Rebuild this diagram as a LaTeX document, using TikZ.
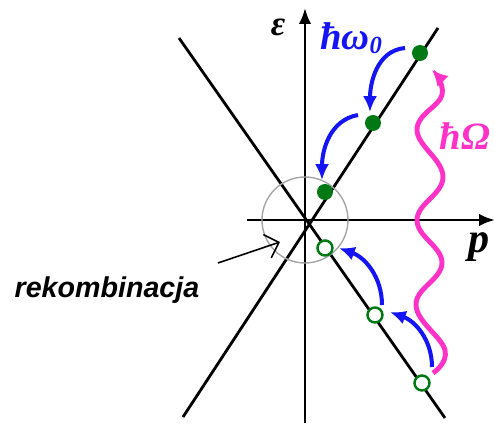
\documentclass[tikz,border=0pt]{standalone}
\usepackage{amsmath,bm}
\usepackage{fontspec}
\newfontfamily\labelfont{Liberation Sans}
\newfontfamily\symfont{Liberation Serif}
\usetikzlibrary{arrows.meta}
\definecolor{dotgreen}{RGB}{0,120,20}
\definecolor{jumpblue}{RGB}{20,20,245}
\definecolor{photonpink}{RGB}{255,50,200}
\newcommand{\pxu}{*0.02cm}
\tikzset{
    full/.style={circle, fill=dotgreen, inner sep=0pt, minimum size=16\pxu},
    empty/.style={circle, draw=dotgreen, line width=1.4pt, fill=white, inner sep=0pt, minimum size=15\pxu},
    jump/.style={jumpblue, line width=2.3pt, -{Latex[length=9pt,width=8pt]}},
    band/.style={black, line width=1.6pt},
    sym/.style={font=\symfont\bfseries\itshape},
}
\begin{document}
\begin{tikzpicture}[x=0.02cm, y=0.02cm]

        \useasboundingbox (-305,-206) rectangle (190,220);

        % axes

        \draw[line width=1.5pt, -{Latex[length=9pt,width=7pt]}] (-58,0) -- (190,0);
        \draw[line width=1.5pt, -{Latex[length=9pt,width=7pt]}] (0,-203) -- (0,212);
        \node[sym] (eps) at (-27,193) {\fontsize{20}{20}\selectfont ε};
        \node[sym] (pp) at (174,-27) {\fontsize{24}{24}\selectfont p};

        % bands

        \draw[band] (-122,-197) -- (133,192); % up
        \draw[band] (-126,182) -- (140,-198); % down

        \draw[gray!70, line width=0.8pt] (0,0) circle (43);

        % electrons

        \node[full] (e1) at (115,167) {};
        \node[full] (e2) at (68,97) {};
        \node[full] (e3) at (20,28) {};

        \coordinate (s1) at (100,172);
        \coordinate (t1) at (65,108);
        \coordinate (s2) at (53,105);
        \coordinate (t2) at (17,40);

        \draw[jump] (s1) to[out=185,in=90] (t1);
        \draw[jump] (s2) to[out=190,in=90] (t2);

        \node[sym, jumpblue] (hw) at (46,182) {\fontsize{22}{22}\selectfont ħω\raisebox{-0.25ex}{\fontsize{14}{14}\selectfont 0}};

        % holes

        \node[empty] (h1) at (20,-28) {};
        \node[empty] (h2) at (70,-95) {};
        \node[empty] (h3) at (117,-163) {};

        \coordinate (u1) at (127,-147);
        \coordinate (v1) at (85,-92);
        \coordinate (u2) at (77,-85);
        \coordinate (v2) at (34,-28);

        \draw[jump] (u1) to[out=90,in=-20] (v1);
        \draw[jump] (u2) to[out=90,in=-20] (v2);

        % photon

        \coordinate (w0) at (128,-153);
        \coordinate (w1) at (127,150);
        \draw[photonpink, line width=2.8pt, -{Latex[length=9pt,width=9pt]}]
            plot[smooth, tension=0.7] coordinates {(w0) (140,-130) (111,-85) (137,-43) (112,0) (138,43) (112,90) (137,125) (w1)};
        \node[sym, photonpink] (hO) at (160,84) {\fontsize{22}{22}\selectfont ħΩ};

        % recombination

        \node (rek) at (-198,-70) {\labelfont\bfseries\itshape\fontsize{16.3}{18}\selectfont rekombinacja};
        \coordinate (rt) at (-25,-22);
        \draw[line width=0.9pt, -{Straight Barb[length=7pt]}] (-87,-43) -- (rt);

    \end{tikzpicture}
\end{document}
